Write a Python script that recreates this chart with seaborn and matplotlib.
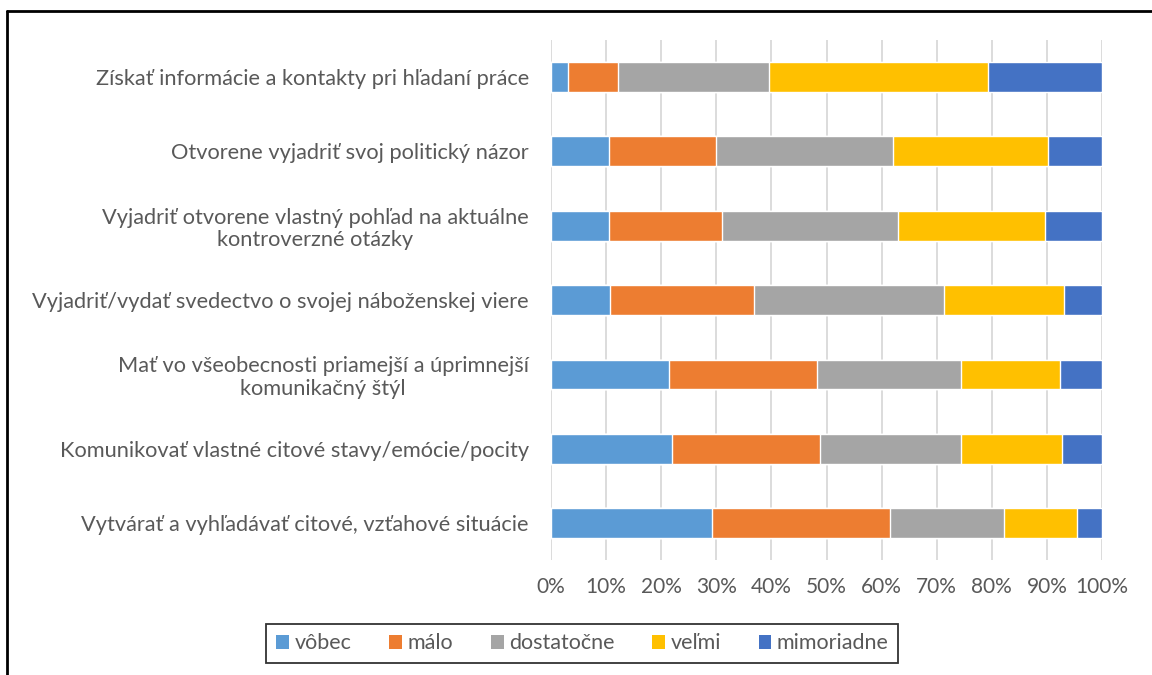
import matplotlib
matplotlib.use("Agg")
import matplotlib.pyplot as plt
from matplotlib.patches import Patch
from matplotlib.lines import Line2D
import numpy as np
import pandas as pd
import seaborn as sns

# Survey items (top to bottom)
categories = [
    "Získať informácie a kontakty pri hľadaní práce",
    "Otvorene vyjadriť svoj politický názor",
    "Vyjadriť otvorene vlastný pohľad na aktuálne\nkontroverzné otázky",
    "Vyjadriť/vydať svedectvo o svojej náboženskej viere",
    "Mať vo všeobecnosti priamejší a úprimnejší\nkomunikačný štýl",
    "Komunikovať vlastné citové stavy/emócie/pocity",
    "Vytvárať a vyhľadávať citové, vzťahové situácie",
]

# Answer shares in percent
vobec = [3.0, 10.5, 10.6, 10.7, 21.4, 22.0, 29.2]
malo = [9.2, 19.5, 20.5, 26.2, 26.8, 26.8, 32.3]
dostatocne = [27.3, 32.0, 31.8, 34.4, 26.3, 25.6, 20.7]
velmi = [39.9, 28.2, 26.8, 21.8, 17.9, 18.3, 13.2]
mimoriadne = [20.6, 9.8, 10.3, 6.9, 7.6, 7.3, 4.6]

series_names = ["vôbec", "málo", "dostatočne", "veľmi", "mimoriadne"]
series_values = [vobec, malo, dostatocne, velmi, mimoriadne]
colors = ["#5B9BD5", "#ED7D31", "#A5A5A5", "#FFC000", "#4472C4"]

tick_labels = [f"{v}%" for v in range(0, 101, 10)]

sns.set_theme(style="white")
plt.rcParams["font.family"] = ["Lato", "DejaVu Sans"]

text_color = "#595959"

fig = plt.figure(figsize=(11.52, 6.75), dpi=100)
ax = fig.add_axes([0.4783, 0.170, 0.4783, 0.771])

df = pd.DataFrame(dict(zip(series_names, series_values)), index=categories)
df = df.div(df.sum(axis=1), axis=0) * 100
cum = df.cumsum(axis=1)

# Stacked bars: draw cumulative totals from the outermost segment inward
for name, color in reversed(list(zip(series_names, colors))):
    sns.barplot(x=cum[name].values, y=categories, orient="h", color=color,
                width=0.4, saturation=1, ax=ax, zorder=3)

ax.set_xlim(0, 100)
ax.set_ylim(6.5, -0.5)
ax.set_xticks(range(0, 101, 10))
ax.set_xticklabels(tick_labels)
ax.xaxis.grid(True, color="#D9D9D9", linewidth=1.3, zorder=0)
ax.yaxis.grid(False)
ax.set_axisbelow(True)
for s in ax.spines.values():
    s.set_visible(False)
ax.tick_params(axis="both", length=0, colors=text_color)
ax.tick_params(axis="x", pad=12, labelsize=15)
ax.tick_params(axis="y", pad=16, labelsize=15.7)
for lbl in ax.get_yticklabels():
    lbl.set_multialignment("center")
    lbl.set_linespacing(1.15)
ax.set_xlabel("")
ax.set_ylabel("")

handles = [Patch(facecolor=c, edgecolor="none") for c in colors]
leg = fig.legend(handles, series_names, loc="center", bbox_to_anchor=(0.5056, 0.0467),
                 ncol=5, frameon=True, fancybox=False, fontsize=15.5,
                 handlelength=0.6, handleheight=0.6, handletextpad=0.25,
                 columnspacing=1.75, borderpad=0.45, labelcolor=text_color)
leg.get_frame().set_edgecolor("black")
leg.get_frame().set_linewidth(1.3)

# Outer frame on top and left
fig.add_artist(Line2D([0.0061, 1.0], [0.9844, 0.9844], transform=fig.transFigure,
                      color="black", linewidth=2))
fig.add_artist(Line2D([0.0061, 0.0061], [0.0, 0.9844], transform=fig.transFigure,
                      color="black", linewidth=2))

fig.savefig("out.png", dpi=100, facecolor="white")
